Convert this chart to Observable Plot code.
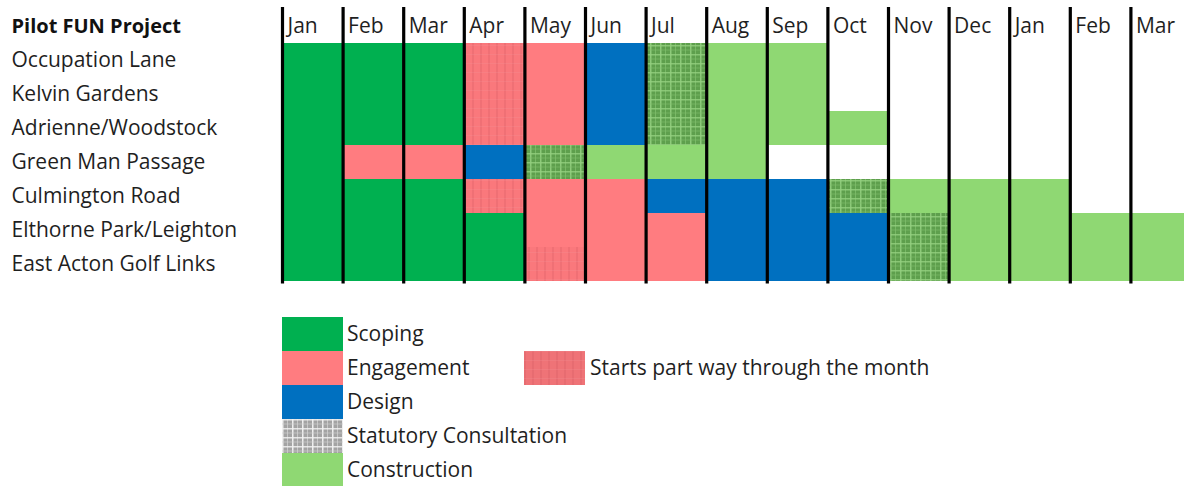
<!DOCTYPE html>
<html>
<head>
<meta charset="utf-8">
<script src="https://cdn.jsdelivr.net/npm/d3@7"></script>
<script src="https://cdn.jsdelivr.net/npm/@observablehq/plot@0.6"></script>
<style>
  html, body { margin: 0; padding: 0; background: #fff; overflow: hidden; }
  body { font-family: "Open Sans", sans-serif; color: #1f1f1f; }
  #legend { position: relative; width: 1184px; height: 196px; }
  .sw { position: absolute; width: 61px; height: 34px; }
  .sw svg { display: block; }
  .lab { position: absolute; font-size: 21px; line-height: 34px; height: 34px; white-space: nowrap; color: #1f1f1f; }
</style>
</head>
<body>
<div id="chart"></div>
<div id="legend"></div>
<script>
// ---------- data ----------
const title = "Pilot FUN Project";
const projects = [
  "Occupation Lane",
  "Kelvin Gardens",
  "Adrienne/Woodstock",
  "Green Man Passage",
  "Culmington Road",
  "Elthorne Park/Leighton",
  "East Acton Golf Links"
];
const months = ["Jan","Feb","Mar","Apr","May","Jun","Jul","Aug","Sep","Oct","Nov","Dec","Jan","Feb","Mar"];
const phases = ["Scoping","Engagement","Design","Statutory Consultation","Construction"];
const phaseCodes = ["S","E","D","T","C"];
const partialLabel = "Starts part way through the month";
// one code per month; "" = nothing planned; lower case = starts part way through the month
const occupationLane   = ["S","S","S","e","E","D","T","C","C","","","","","",""];
const kelvinGardens    = ["S","S","S","e","E","D","T","C","C","","","","","",""];
const adrienne         = ["S","S","S","e","E","D","T","C","C","C","","","","",""];
const greenMan         = ["S","E","E","D","T","C","C","C","","","","","","",""];
const culmington       = ["S","S","S","e","E","E","D","D","D","T","C","C","C","",""];
const elthorne         = ["S","S","S","S","E","E","E","D","D","D","T","C","C","C","C"];
const eastActon        = ["S","S","S","S","e","E","E","D","D","D","T","C","C","C","C"];
const schedules = [occupationLane, kelvinGardens, adrienne, greenMan, culmington, elthorne, eastActon];

// ---------- build table ----------
const cells = [];
schedules.forEach((row, r) => {
  row.forEach((code, i) => {
    if (!code) return;
    const up = code.toUpperCase();
    cells.push({
      project: projects[r],
      i,
      phase: phases[phaseCodes.indexOf(up)],
      partial: code !== up
    });
  });
});

const phaseColors = ["#00B050", "#FF7C80", "#0070C0", "url(#statcon)", "#8FD873"];

const font = '"Open Sans", sans-serif';
const chart = Plot.plot({
  width: 1184,
  height: 290,
  marginTop: 7,
  marginBottom: 6.5,
  marginLeft: 282,
  marginRight: 0,
  x: { type: "linear", domain: [0, months.length], range: [282, 1191], axis: null },
  y: { type: "band", domain: [title, ...projects], padding: 0, axis: null },
  color: { type: "ordinal", domain: phases, range: phaseColors },
  style: { fontFamily: font, fontSize: "21px", color: "#1f1f1f", background: "#fff", overflow: "visible" },
  marks: [
    Plot.barX(cells, { x1: "i", x2: d => d.i + 1, y: "project", fill: "phase", shapeRendering: "crispEdges" }),
    Plot.barX(cells.filter(d => d.partial), { x1: "i", x2: d => d.i + 1, y: "project", fill: "url(#partialHatch)", shapeRendering: "crispEdges" }),
    Plot.ruleX(d3.range(months.length), { stroke: "#000", strokeWidth: 3.2 }),
    Plot.text(months, { x: (d, i) => i, y: () => title, text: d => d, textAnchor: "start", dx: 5, fill: "#1f1f1f" }),
    Plot.text(projects, { y: d => d, text: d => d, frameAnchor: "left", textAnchor: "start", dx: -271, fill: "#1f1f1f" }),
    Plot.text([title], { y: d => d, text: d => d, frameAnchor: "left", textAnchor: "start", dx: -271, fontWeight: "bold", fontSize: 20, fill: "#111" })
  ]
});

chart.insertAdjacentHTML("afterbegin", `
<defs>
  <pattern id="statcon" width="10" height="9" patternUnits="userSpaceOnUse">
    <rect width="10" height="9" fill="#5E9F4D"/>
    <rect x="0" y="0" width="1.5" height="9" fill="#93CF7F" opacity="0.9"/>
    <rect x="5" y="0" width="1" height="9" fill="#7EBE6B" opacity="0.8"/>
    <rect x="0" y="0" width="10" height="1.5" fill="#93CF7F" opacity="0.8"/>
    <rect x="0" y="4.5" width="10" height="1" fill="#7EBE6B" opacity="0.6"/>
  </pattern>
  <pattern id="statconLegend" width="10" height="9" patternUnits="userSpaceOnUse">
    <rect width="10" height="9" fill="#A3A3A3"/>
    <rect x="0" y="0" width="1.5" height="9" fill="#F2F2F2" opacity="0.95"/>
    <rect x="5" y="0" width="1" height="9" fill="#D0D0D0" opacity="0.8"/>
    <rect x="0" y="0" width="10" height="1.5" fill="#F2F2F2" opacity="0.85"/>
    <rect x="0" y="4.5" width="10" height="1" fill="#D0D0D0" opacity="0.6"/>
  </pattern>
  <pattern id="partialHatch" width="8" height="9" patternUnits="userSpaceOnUse">
    <rect width="8" height="9" fill="#D85E63" opacity="0.12"/>
    <rect x="0" y="0" width="2" height="9" fill="#D4595E" opacity="0.25"/>
    <rect x="0" y="0" width="8" height="1" fill="#F59498" opacity="0.25"/>
  </pattern>
</defs>`);

document.getElementById("chart").appendChild(chart);

// ---------- legend ----------
const legend = document.getElementById("legend");
function swatch(left, top, fill, extra) {
  const d = document.createElement("div");
  d.className = "sw";
  d.style.left = left + "px";
  d.style.top = top + "px";
  d.innerHTML = `<svg width="61" height="34"><rect width="61" height="34" fill="${fill}"/>${extra || ""}</svg>`;
  legend.appendChild(d);
}
function label(left, top, text) {
  const d = document.createElement("div");
  d.className = "lab";
  d.style.left = left + "px";
  d.style.top = top + "px";
  d.textContent = text;
  legend.appendChild(d);
}
const legendFills = ["#00B050", "#FF7C80", "#0070C0", "url(#statconLegend)", "#8FD873"];
phases.forEach((p, k) => {
  swatch(282, 27 + k * 34, legendFills[k]);
  label(347, 26 + k * 34, p);
});
swatch(524, 61, "#F2767A", `<rect width="61" height="34" fill="url(#partialHatch)"/>`);
label(590, 60, partialLabel);
</script>
</body>
</html>
